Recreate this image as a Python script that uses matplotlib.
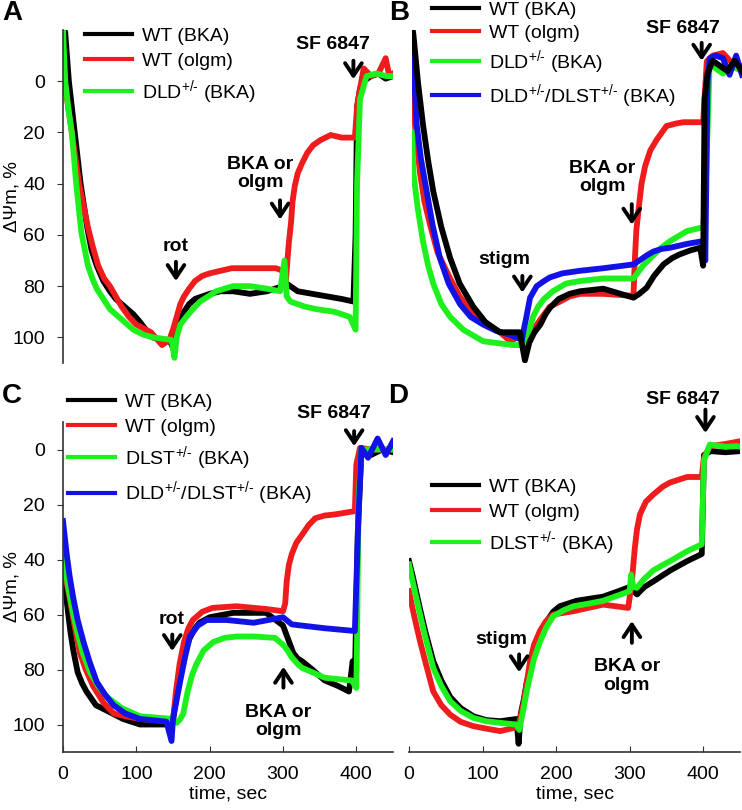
import matplotlib
matplotlib.use('Agg')
import matplotlib.pyplot as plt

plt.rcParams['font.family'] = ['Liberation Sans', 'DejaVu Sans']
plt.rcParams['mathtext.fontset'] = 'custom'
plt.rcParams['mathtext.rm'] = 'Liberation Sans'
plt.rcParams['mathtext.it'] = 'Liberation Sans:italic'
plt.rcParams['mathtext.bf'] = 'Liberation Sans:bold'

# ---- panel A (rot, then BKA / olgm, then SF 6847) ----
a_black_t = [0, 3, 8, 16, 24, 33, 39, 46, 55, 64, 72, 80, 88, 96, 105, 113, 122, 135, 145, 150,
             155, 160, 165, 172, 180, 190, 200, 215, 232, 255, 278, 300, 305, 320, 340, 360, 380, 396, 399, 401,
             405, 410, 420, 430, 440, 450]
a_black = [-22, -19, 0, 20, 40, 57, 66, 72, 78, 82, 85, 87, 89, 91, 94, 97, 100, 101, 101, 104,
           96, 93, 90, 87, 85, 84, 83, 82, 82, 83, 82, 80, 79, 82, 83, 84, 85, 86, 60, 10,
           3, 0, -2, -3, -1, -2]
a_red_t = [0, 5, 12, 22, 34, 41, 48, 56, 64, 72, 80, 90, 100, 120, 135, 145, 150, 155, 160, 165,
           172, 180, 190, 200, 215, 230, 260, 290, 300, 304, 306, 308, 311, 313, 316, 320, 326, 333, 341, 351,
           365, 380, 398, 401, 405, 410, 420, 430, 440, 445, 450]
a_red = [-6, 6, 20, 40, 57, 65, 72, 77, 80, 84, 88, 92, 95, 98, 103, 101, 97, 92, 87, 84,
         81, 78, 76, 75, 74, 73, 73, 73, 74, 78, 70, 63, 55, 47, 41, 36, 32, 28, 25, 23,
         21, 22, 22, 10, 3, -5, -2, -3, -9, -2, -3]
a_green_t = [0, 3, 7, 12, 18, 25, 34, 40, 46, 55, 64, 80, 96, 110, 123, 148, 152, 155, 160, 168,
             177, 187, 198, 209, 220, 232, 255, 278, 296, 302, 305, 310, 330, 346, 370, 391, 399, 401, 405, 414,
             427, 441, 450]
a_green = [-20, 0, 10, 20, 40, 59, 72, 77, 81, 85, 89, 93, 97, 99, 100, 101, 108, 100, 95, 92,
           89, 86, 84, 82, 81, 80, 80, 81, 82, 70, 84, 86, 88, 89, 90, 92, 97, 40, 7, -2,
           -3, -2, -2]

# ---- panel B (stigm) ----
b_black_t = [0, 2, 8, 15, 22, 29, 40, 52, 65, 83.5, 100, 120, 147, 154, 160, 167, 175, 182, 188, 200,
             215, 229, 261, 302, 310, 320, 330, 343, 355, 365, 380, 393, 397, 399, 403, 410, 420, 430, 440, 450]
b_black = [-22, -18, 0, 17, 31, 43, 57, 69, 79, 88, 94, 98, 98, 109, 102, 98, 95, 91, 88.5, 85,
           83, 82, 81, 84.5, 83, 80.6, 76, 71.5, 69, 67.6, 66, 65, 72, 7, -3, -8, -6, -4, -8, -4]
b_red_t = [0, 4, 11, 17, 24.6, 35, 52, 65, 83, 100, 120, 134, 150, 156, 162, 168, 175, 188, 202, 215,
           229, 261, 302, 304, 306, 309, 313, 318, 325, 334, 347, 360, 370, 397, 402, 410, 424, 440, 450]
b_red = [-10, 17, 36, 47, 56, 67, 77, 84, 90, 94.5, 98, 101.5, 99, 104, 99, 96, 93, 88, 86, 84,
         83, 83, 83.8, 69, 58, 50, 40, 33, 27, 22.7, 17.5, 16.5, 16, 16, -7.8, -10, -11, -6, -6]
b_green_t = [0, 2, 8, 15, 22, 29, 40, 52, 70, 97, 138, 152, 156, 160, 165, 172, 180, 192, 210, 229,
             261, 302, 315, 329, 340, 352, 375, 397, 400, 406, 414, 424, 435, 450]
b_green = [20, 36, 50, 62.5, 72, 79, 87, 92, 97, 101.5, 103, 103, 101, 97, 92, 88, 85, 82, 79, 78,
           77, 77, 72, 68, 65, 62.4, 58.5, 57, 46, -7.8, -5, -3, -6, -4]
b_blue_t = [0, 6.4, 12, 20, 28, 38, 50, 65.5, 80, 97, 115, 134, 150, 152, 156, 161, 170, 180, 188, 205,
            229, 261, 302, 310, 320, 329, 340, 352, 375, 397, 400, 403, 406, 414, 424, 433, 442, 450]
b_blue = [-18, 17, 30, 43, 56, 69, 79, 87, 92, 95, 97.5, 99, 101, 97.5, 92, 84.5, 80, 78, 76.6, 75,
          74, 73, 71.5, 70, 68, 66.5, 65.5, 65, 63.5, 62.4, 70, 0, -9, -10, -9, -2.5, -10, -2.5]

# ---- panel C (rot) ----
c_black_t = [0, 5, 10, 14, 20, 26, 32, 45, 60, 82, 105, 141, 150, 157, 164, 172, 180, 186, 200, 232,
             277, 300, 307, 314, 320, 326, 340, 357, 375, 390, 395, 398, 402, 407, 420, 435, 450]
c_black = [42, 55, 66, 73, 81, 85, 88, 93, 95, 98, 100, 100, 98, 86, 76, 69, 65, 63, 61, 59.4,
           59.4, 64, 69, 74, 76, 77, 80, 84, 86, 88, 77, 84, 30, 0, 2, 0, 1]
c_red_t = [0, 4, 9.5, 15, 23, 31, 41, 55, 69, 85, 105, 150, 154, 159, 165, 171, 177, 190, 204, 236,
           277, 300, 303, 305, 308, 312, 318, 326, 335, 344, 357, 371, 398, 400, 405, 420, 450]
c_red = [40, 47, 54.5, 63, 74, 80, 86, 92, 96, 97, 98, 99, 88, 78, 70, 65, 62, 59, 57.6, 57,
         58, 58.8, 56, 48, 42, 38, 34, 31, 27.5, 25, 24, 23.6, 22.4, 5.5, -0.6, 0, 0]
c_green_t = [0, 7, 14, 20, 27, 37, 48, 60, 80, 105, 150, 155, 160, 164, 170, 176, 182, 192, 205, 220,
             237, 260, 289, 300, 306, 312, 320, 326, 340, 357, 375, 394, 400, 401, 403, 407, 450]
c_green = [37.6, 50, 60, 67, 74, 81, 86, 90, 94, 97, 98, 99.4, 98, 96, 88, 82, 78, 73, 70, 68.5,
           68, 68, 68.5, 71, 73, 75.6, 78, 79.4, 81, 83, 83.5, 84, 86.7, 68.5, 18, 0, 0]
c_blue_t = [0, 5, 9, 14, 20, 28, 36, 46, 57, 69, 85, 105, 125, 141, 148, 150, 155, 160, 166, 173,
            184, 196, 223, 260, 300, 312, 357, 398, 403, 407, 416, 429, 440, 450]
c_blue = [26, 38, 46, 54, 62, 70, 77, 84.5, 89, 93, 96, 98, 98.5, 99, 106, 98, 91, 84, 76, 68,
          64, 62, 62, 63, 61, 63.6, 65, 66, 23.6, -0.6, 3, -4, 2, -3]

# ---- panel D (stigm) ----
d_black_t = [0, 5, 10, 15, 22, 33, 44, 56, 70, 87.5, 105, 124, 146, 149, 152, 156, 160, 168, 178, 186,
             196, 205, 228, 264, 285, 300, 310, 320, 332, 355, 378, 398, 401, 410, 430, 450]
d_black = [40.6, 46, 52, 58, 66, 77, 84, 90, 94, 97, 98.4, 98.8, 98, 107, 96, 91, 84.8, 76, 68.8, 63,
           59, 57, 55, 53.5, 51.5, 50, 52.7, 50, 48, 44, 40.6, 38, 2, 0.6, 1, 0.6]
d_red_t = [0, 5, 10, 15, 22, 33, 44, 56, 70, 87.5, 105, 124, 146, 150, 155.5, 160, 164.6, 170, 178, 186,
           196, 223.5, 264, 298, 303, 307, 310, 314, 322, 332, 345, 355, 378, 398, 401, 409, 430, 450]
d_red = [51.5, 58, 64, 69.7, 77, 88, 93, 96.4, 99, 100.6, 101.5, 102.4, 101, 99, 92.7, 85, 77, 71, 66, 62.5,
         60, 58.8, 56.4, 57.6, 48, 35.8, 29, 23.6, 19, 16.4, 13.5, 12, 10, 10, 3, -1.2, -2, -3]
d_green_t = [0, 5, 10, 15, 22, 33, 44, 56, 70, 87.5, 105, 124, 146, 150, 155.5, 160, 164.6, 170, 178, 186,
             196, 210, 223.5, 245, 264, 285, 300, 302, 305, 309.7, 320, 332, 345, 355, 378, 398, 401, 409, 430,
             446, 450]
d_green = [41.8, 48, 54, 60, 68, 79.4, 86, 91.5, 95, 97.6, 98.8, 99.4, 100, 102, 94.5, 88, 82.4, 76, 70, 65,
           60.6, 58.5, 57, 56, 55, 53, 51.5, 45.5, 50, 50.3, 47, 44, 42, 40.6, 37, 34.5, 4, -1.8, -1,
           -1.2, -1]

lbl_wt_bka = 'WT (BKA)'
lbl_wt_olgm = 'WT (olgm)'
lbl_dld = 'DLD$^{\\text{+/-}}$ (BKA)'
lbl_dlst = 'DLST$^{\\text{+/-}}$ (BKA)'
lbl_both = 'DLD$^{\\text{+/-}}$/DLST$^{\\text{+/-}}$ (BKA)'

BLACK, RED, GREEN, BLUE = '#000000', '#ee1c1c', '#1ef01e', '#1212e6'
LW = 4.2

W, H = 742, 810
fig = plt.figure(figsize=(W / 100, H / 100), dpi=100)


def box(l, t, r, b):
    return [l / W, 1 - b / H, (r - l) / W, (b - t) / H]


def setup(ax, ylim, left=False, bottom=False):
    ax.set_xlim(0, 450)
    ax.set_ylim(*ylim)
    for s in ['top', 'right']:
        ax.spines[s].set_visible(False)
    ax.spines['left'].set_visible(left)
    ax.spines['bottom'].set_visible(bottom)
    for s in ['left', 'bottom']:
        ax.spines[s].set_linewidth(1.2)
        ax.spines[s].set_color('#333333')
    if left:
        ax.set_yticks([0, 20, 40, 60, 80, 100])
        ax.tick_params(axis='y', direction='out', length=4, pad=9, labelsize=14, color='#333333')
        ax.set_ylabel('ΔΨm, %', fontsize=13.5)
        ax.yaxis.set_label_coords(-0.13, 0.5)
    else:
        ax.set_yticks([])
    if bottom:
        ax.set_xticks([0, 100, 200, 300, 400])
        ax.tick_params(axis='x', direction='in', length=4, pad=10, labelsize=14, color='#333333')
        ax.set_xlabel('time, sec', fontsize=14, labelpad=2)
    else:
        ax.set_xticks([])
    ax.patch.set_alpha(0)


def legend(ax, lines, labels, x, y, spacing=0.35):
    leg = ax.legend(lines, labels, loc='upper left', bbox_to_anchor=(x / W, 1 - y / H),
                    bbox_transform=fig.transFigure, frameon=False, fontsize=14,
                    handlelength=2.4, handletextpad=0.55, labelspacing=spacing,
                    borderpad=0, borderaxespad=0)
    for ln in leg.get_lines():
        ln.set_linewidth(3)


def mark(ax, text, tx, ty, x, tail, tip):
    ax.text(tx, ty, text, fontsize=14, fontweight='bold', ha='center', va='center',
            linespacing=1.1)
    ax.annotate('', xy=(x, tip), xytext=(x, tail), annotation_clip=False,
                arrowprops=dict(arrowstyle='->,head_length=0.45,head_width=0.3', lw=2.8,
                                color='black', shrinkA=0, shrinkB=0, mutation_scale=20))


# A
axA = fig.add_axes(box(63, 30, 393, 363))
setup(axA, (110, -20), left=True)
l1, = axA.plot(a_black_t, a_black, color=BLACK, lw=LW)
l2, = axA.plot(a_red_t, a_red, color=RED, lw=LW)
l3, = axA.plot(a_green_t, a_green, color=GREEN, lw=LW)
legend(axA, [l1, l2, l3], [lbl_wt_bka, lbl_wt_olgm, lbl_dld], 85, 27, 0.4)
mark(axA, 'rot', 154, 64.5, 154, 70.5, 78)
mark(axA, 'BKA or\nolgm', 269, 36, 296, 46.5, 54)
mark(axA, 'SF 6847', 368, -14.2, 396, -8, -0.8)

# B
axB = fig.add_axes(box(412, 30, 742, 363))
setup(axB, (110, -20))
l2, = axB.plot(b_red_t, b_red, color=RED, lw=LW)
l3, = axB.plot(b_green_t, b_green, color=GREEN, lw=LW)
l4, = axB.plot(b_blue_t, b_blue, color=BLUE, lw=LW)
l1, = axB.plot(b_black_t, b_black, color=BLACK, lw=LW)
legend(axB, [l1, l2, l3, l4], [lbl_wt_bka, lbl_wt_olgm, lbl_dld, lbl_both], 432, 1, 0.3)
mark(axB, 'stigm', 125.5, 69.5, 150.5, 76, 82.5)
mark(axB, 'BKA or\nolgm', 259.6, 37.6, 299.7, 48, 56)
mark(axB, 'SF 6847', 368.8, -20.7, 395, -15, -8)

# C
axC = fig.add_axes(box(63, 422, 393, 752))
setup(axC, (110, -10), left=True, bottom=True)
l1, = axC.plot(c_black_t, c_black, color=BLACK, lw=LW)
l2, = axC.plot(c_red_t, c_red, color=RED, lw=LW)
l3, = axC.plot(c_green_t, c_green, color=GREEN, lw=LW)
l4, = axC.plot(c_blue_t, c_blue, color=BLUE, lw=LW)
legend(axC, [l1, l2, l3, l4], [lbl_wt_bka, lbl_wt_olgm, lbl_dlst, lbl_both], 68, 393, 0.4)
mark(axC, 'rot', 148.7, 61.8, 149, 67.3, 73.3)
mark(axC, 'BKA or\nolgm', 293.7, 98.8, 300.6, 86.6, 79)
mark(axC, 'SF 6847', 369.7, -13, 397, -6.7, -1.2)

# D
axD = fig.add_axes(box(409, 422, 740, 752))
setup(axD, (110, -10), bottom=True)
l1, = axD.plot(d_black_t, d_black, color=BLACK, lw=LW)
l2, = axD.plot(d_red_t, d_red, color=RED, lw=LW)
l3, = axD.plot(d_green_t, d_green, color=GREEN, lw=LW)
legend(axD, [l1, l2, l3], [lbl_wt_bka, lbl_wt_olgm, lbl_dlst], 432, 478, 0.4)
mark(axD, 'stigm', 125, 69, 149.7, 74.5, 81)
mark(axD, 'BKA or\nolgm', 296, 82.4, 303, 70.3, 62.4)
mark(axD, 'SF 6847', 373, -18, 403, -14.5, -6)

# panel letters
for letter, x, y in [('A', 2, 0), ('B', 389, 0), ('C', 2, 383), ('D', 388, 383)]:
    fig.text(x / W, 1 - y / H, letter, fontsize=20, fontweight='bold', ha='left', va='top')

fig.savefig('out.png', dpi=100)
